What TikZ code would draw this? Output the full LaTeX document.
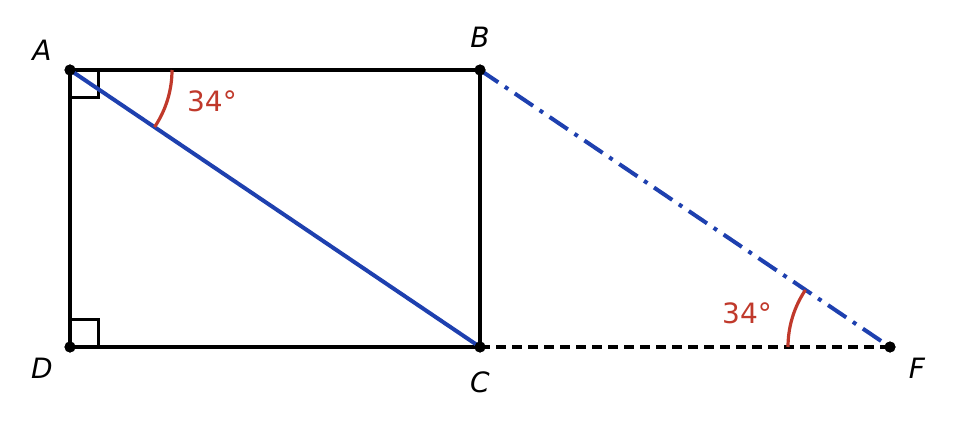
\documentclass[tikz,border=0pt]{standalone}
\usepackage{fontspec}
\setmainfont{DejaVu Sans}
\usepackage{xcolor}
\usepackage{tikz}
\definecolor{segblue}{RGB}{30,64,175}
\definecolor{angred}{RGB}{192,57,43}

\begin{document}
\begin{tikzpicture}[x=1pt,y=1pt]
      \tikzstyle{side}=[line width=4.5pt,black]
      \tikzstyle{dot}=[circle,fill=black,inner sep=0pt,minimum size=11pt]
      \tikzstyle{pointlabel}=[font=\fontsize{28}{32}\selectfont\itshape]
      \tikzstyle{anglabel}=[font=\fontsize{28}{32}\selectfont,text=angred]
      \tikzstyle{angarc}=[line width=3.2pt,angred]
      \tikzstyle{rightmark}=[line width=3pt,black]
      \useasboundingbox (0,0) rectangle (960,426);
      \node[dot] (A) at (70, 356) {};
      \node[dot] (B) at (480, 356) {};
      \node[dot] (C) at (480, 79) {};
      \node[dot] (D) at (70, 79) {};
      \node[dot] (F) at (890, 79) {};
      \node[pointlabel] (lA) at (42, 376) {A};
      \node[pointlabel] (lB) at (480, 389) {B};
      \node[pointlabel] (lC) at (480, 44) {C};
      \node[pointlabel] (lD) at (42, 58) {D};
      \node[pointlabel] (lF) at (917, 58) {F};
      % right angles
      \draw[rightmark] (70, 328) -- (98, 328) -- (98, 356);
      \draw[rightmark] (70, 107) -- (98, 107) -- (98, 79);
      % rectangle and extension
      \draw[line width=3.2pt,black,dash pattern=on 10pt off 6pt] (C.center) -- (F.center);
      \draw[side,line join=round] (A.center) -- (B.center) -- (C.center) -- (D.center) -- cycle;
      \draw[line width=4pt,segblue] (A.center) -- (C.center);
      \draw[line width=4pt,segblue,dash pattern=on 22pt off 8pt on 4pt off 8pt] (B.center) -- (F.center);
      % angles
      \draw[angarc] (A.center) ++(102,0) arc (0:-34:102);
      \draw[angarc] (F.center) ++(-102,0) arc (180:146:102);
      \node[anglabel] (a1) at (212, 325) {34°};
      \node[anglabel] (a2) at (747, 113) {34°};
      \node[dot] at (A) {};
      \node[dot] at (B) {};
      \node[dot] at (C) {};
      \node[dot] at (D) {};
      \node[dot] at (F) {};
    \end{tikzpicture}
\end{document}
